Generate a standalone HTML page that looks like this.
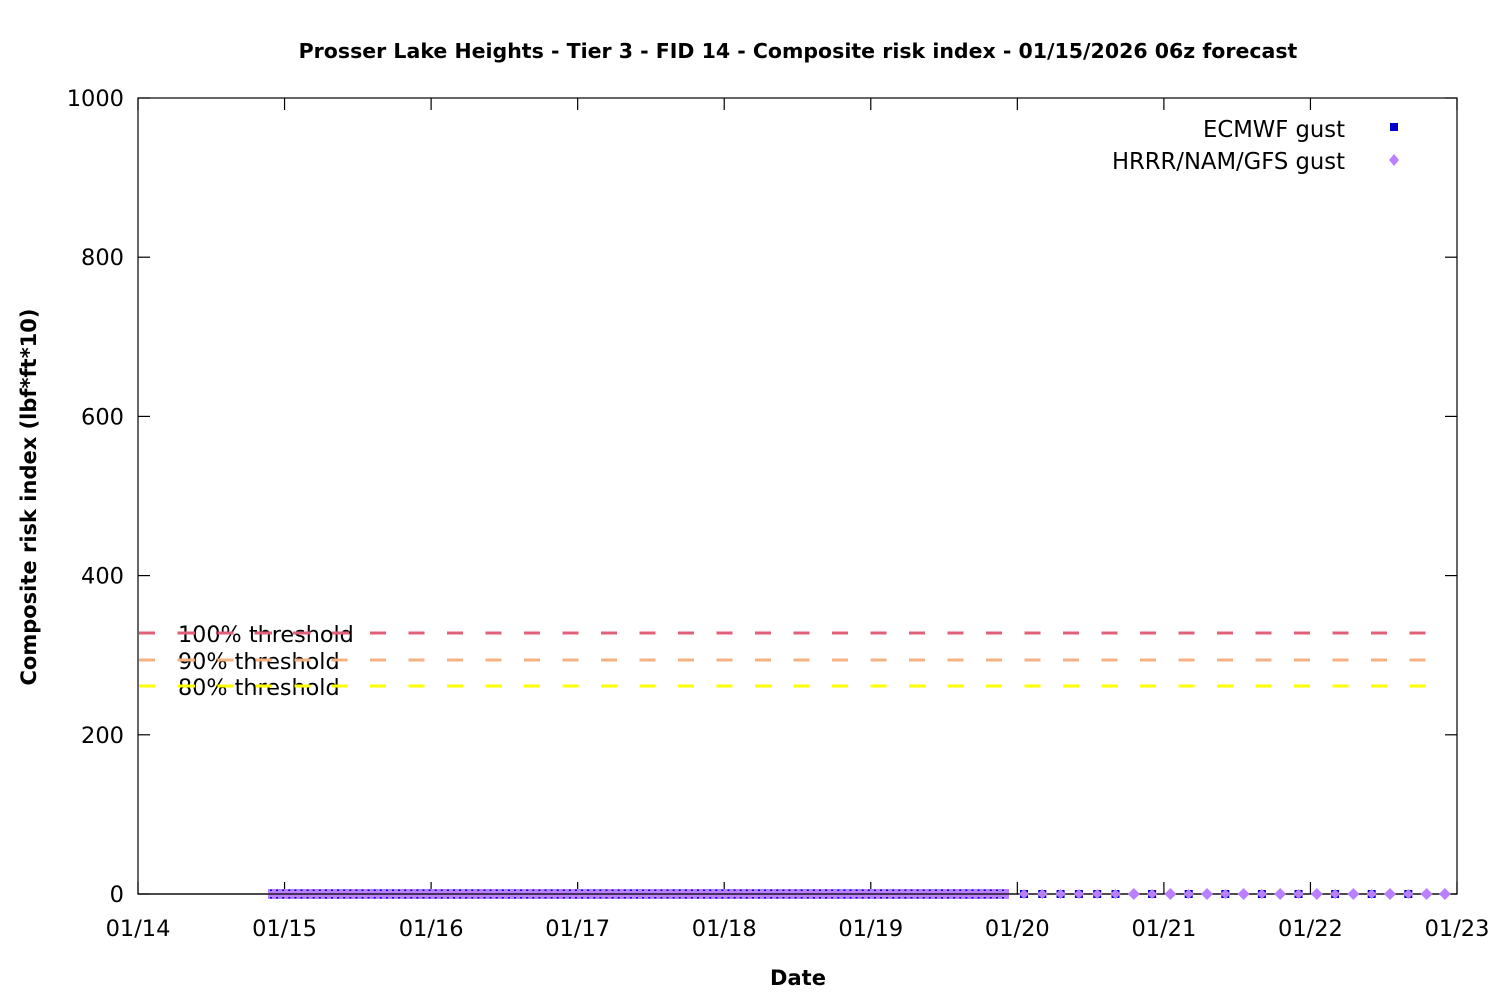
<!DOCTYPE html>
<html><head><meta charset="utf-8">
<style>html,body{margin:0;padding:0;background:#fff;}svg{display:block;}</style>
</head><body>
<svg id="s" width="1500" height="1000" xmlns="http://www.w3.org/2000/svg" font-family="'DejaVu Sans','Liberation Sans',sans-serif">
<rect width="1500" height="1000" fill="#fff"/>
<text x="798" y="58" text-anchor="middle" font-size="20.5" font-weight="bold">Prosser Lake Heights - Tier 3 - FID 14 - Composite risk index - 01/15/2026 06z forecast</text>
<text transform="translate(36,497) rotate(-90)" text-anchor="middle" font-size="21" font-weight="bold">Composite risk index (lbf*ft*10)</text>
<text x="798" y="985" text-anchor="middle" font-size="21" font-weight="bold">Date</text>
<g id="ax" stroke="#000" stroke-width="1.2" fill="none"></g>
<g id="yl" font-size="22.5" text-anchor="end"></g>
<g id="xl" font-size="22.5" text-anchor="middle"></g>
<g stroke-width="3" stroke-dasharray="16 22.5">
<line x1="139" y1="633" x2="1442" y2="633" stroke="#e0607a"/>
<line x1="139" y1="660" x2="1442" y2="660" stroke="#f4b183"/>
<line x1="139" y1="686" x2="1442" y2="686" stroke="#ffff00"/>
</g>
<g font-size="22.3">
<text x="178" y="642">100% threshold</text>
<text x="178" y="669">90% threshold</text>
<text x="178" y="695">80% threshold</text>
</g>
<g stroke-width="3" stroke-dasharray="16 22.5">
<line x1="178" y1="633" x2="355" y2="633" stroke="#e0607a" stroke-dashoffset="-1"/>
<line x1="178" y1="660" x2="345" y2="660" stroke="#f4b183" stroke-dashoffset="-1"/>
<line x1="178" y1="686" x2="345" y2="686" stroke="#ffff00" stroke-dashoffset="-1"/>
</g>
<g id="data"></g>
<g font-size="22.7" text-anchor="end">
<text x="1345" y="137">ECMWF gust</text>
<text x="1345" y="169">HRRR/NAM/GFS gust</text>
</g>
<rect x="1390" y="123" width="8" height="8" fill="#0000cc"/>
<polygon points="1394,154 1399,160 1394,166 1389,160" fill="#bb80ff"/>
</svg>
<script>
var NS="http://www.w3.org/2000/svg";
function el(p,t,a,txt){var e=document.createElementNS(NS,t);for(var k in a)e.setAttribute(k,a[k]);if(txt)e.textContent=txt;document.getElementById(p).appendChild(e);return e;}
var L=138,R=1457,T=98,B=894;
el("ax","rect",{x:L,y:T,width:R-L,height:B-T});
for(var i=0;i<=5;i++){var y=B-i*(B-T)/5;
 el("ax","line",{x1:L,y1:y,x2:L+12,y2:y});el("ax","line",{x1:R,y1:y,x2:R-12,y2:y});
 el("yl","text",{x:124,y:y+8},String(i*200));}
var dx=(R-L)/9;
for(var d=0;d<=9;d++){var x=L+d*dx;
 el("ax","line",{x1:x,y1:B,x2:x,y2:B-12});el("ax","line",{x1:x,y1:T,x2:x,y2:T+12});
 el("xl","text",{x:x,y:936},"01/"+(14+d));}
el("data","rect",{x:268,y:889,width:741,height:10,fill:"#bb80ff"});
for(var x=271;x<1008;x+=6.1){
 el("data","rect",{x:x-1,y:889.5,width:2,height:1.5,fill:"#0000cc"});
 el("data","rect",{x:x-1,y:897,width:2,height:1.5,fill:"#0000cc"});}
el("data","line",{x1:L,y1:B,x2:R,y2:B,stroke:"#000","stroke-width":1.2});
var seq="SSSSSSDSDSDSDSDSDSDSDSDD";
for(var k=0;k<24;k++){var x=1024+k*18.3;
 if(seq[k]=="S"){el("data","rect",{x:x-4,y:B-4,width:8,height:8,fill:"#0000cc"});el("data","polygon",{points:(x)+","+(B-5)+" "+(x+5)+","+B+" "+x+","+(B+5)+" "+(x-5)+","+B,fill:"#bb80ff"});}
 else el("data","polygon",{points:(x)+","+(B-6)+" "+(x+6)+","+B+" "+x+","+(B+6)+" "+(x-6)+","+B,fill:"#bb80ff"});}
</script>
</body></html>
